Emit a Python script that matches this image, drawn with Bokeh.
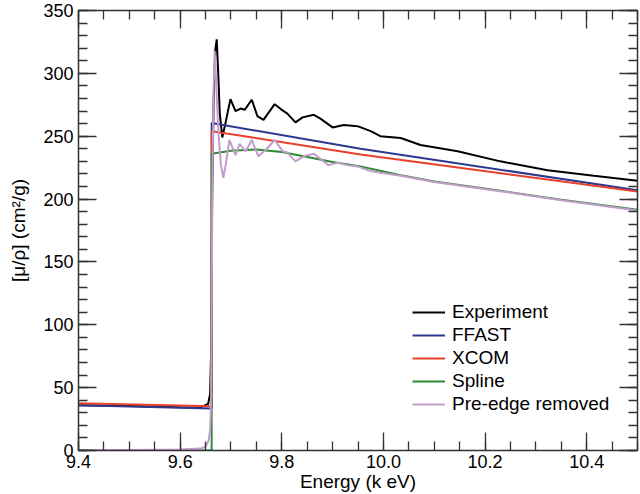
from bokeh.plotting import figure
from bokeh.models import (LinearAxis, SingleIntervalTicker, PrintfTickFormatter,
                          Range1d, CustomJSTickFormatter)
from bokeh.embed import file_html
from bokeh.resources import INLINE

# ---------------- data ----------------
exp_e = [9.40, 9.50, 9.60, 9.64, 9.655, 9.659, 9.661, 9.663, 9.666, 9.669, 9.672,
         9.675, 9.678, 9.683, 9.690, 9.699, 9.709, 9.719, 9.727, 9.741, 9.752,
         9.764, 9.786, 9.798, 9.811, 9.827, 9.841, 9.863, 9.876, 9.900, 9.922,
         9.949, 9.975, 9.994, 10.034, 10.073, 10.146, 10.230, 10.323, 10.414, 10.500]
exp_v = [36.0, 35.3, 34.5, 34.3, 37, 45, 80, 200, 280, 318, 327,
         300, 268, 249, 262, 279.5, 270, 272, 271, 279, 266,
         263, 275.5, 271.6, 268, 261, 265, 267, 264, 257, 259,
         258, 254, 250, 248.6, 243, 238, 230, 223, 218.5, 214.6]

ffast_e = [9.40, 9.662, 9.6621, 9.955, 10.50]
ffast_v = [36.0, 33.5, 260.5, 240.0, 207.0]

xcom_e = [9.40, 9.662, 9.6621, 9.955, 10.50]
xcom_v = [37.5, 35.2, 254.0, 235.5, 206.0]

spline_e = [9.40, 9.662, 9.6622, 9.70, 9.75, 9.80, 9.85, 9.90, 9.955, 10.0,
            10.034, 10.10, 10.23, 10.35, 10.50]
spline_v = [0, 0, 236, 238.5, 239.5, 237.5, 233.5, 229.5, 226, 222,
            219, 214, 206.6, 199.5, 191.5]

pre_e = [9.40, 9.50, 9.60, 9.64, 9.65, 9.656, 9.659, 9.661, 9.662, 9.664, 9.666,
         9.668, 9.671, 9.675, 9.680, 9.685, 9.690, 9.697, 9.709, 9.717, 9.729,
         9.741, 9.754, 9.768, 9.786, 9.802, 9.811, 9.827, 9.843, 9.863, 9.876,
         9.892, 9.910, 9.929, 9.949, 9.969, 9.994, 10.034, 10.10, 10.23, 10.35, 10.50]
pre_v = [0.3, 0.4, 0.8, 1.5, 3, 8, 16, 40, 120, 230, 290,
         318, 292, 255, 228, 217, 228, 247, 235, 244, 238,
         247, 234, 239, 247, 238, 237, 230, 234, 236, 232,
         227, 229, 227, 226, 223, 221, 218.5, 213.5, 206.3, 199, 191]

x_range = (9.4, 10.5)
y_range = (0, 350)

# ---------------- figure ----------------
FONT = "Liberation Sans"
AX = "#333333"

p = figure(width=640, height=494, output_backend="svg", toolbar_location=None,
           x_range=Range1d(*x_range), y_range=Range1d(*y_range),
           min_border_left=78, min_border_right=3, min_border_top=10,
           min_border_bottom=10)
p.xgrid.visible = False
p.ygrid.visible = False
p.outline_line_color = None
p.background_fill_color = "white"
p.border_fill_color = "white"

series = [
    (exp_e, exp_v, "black", "Experiment"),
    (ffast_e, ffast_v, "#2b3990", "FFAST"),
    (xcom_e, xcom_v, "#e8402a", "XCOM"),
    (spline_e, spline_v, "#2f8a35", "Spline"),
    (pre_e, pre_v, "#c49ccb", "Pre-edge removed"),
]
for xs, ys, col, lab in series:
    p.line(xs, ys, line_color=col, line_width=2, legend_label=lab)

def style_axis(ax, show_labels):
    ax.axis_line_color = AX
    ax.axis_line_width = 1.5
    ax.major_tick_line_color = AX
    ax.minor_tick_line_color = AX
    ax.major_tick_line_width = 1.3
    ax.minor_tick_line_width = 1.3
    ax.major_tick_in = 18
    ax.major_tick_out = 0
    ax.minor_tick_in = 9
    ax.minor_tick_out = 0
    if show_labels:
        ax.major_label_text_font = FONT
        ax.major_label_text_font_size = "18px"
        ax.major_label_text_color = "black"
        ax.axis_label_text_font = FONT
        ax.axis_label_text_font_size = "19px"
        ax.axis_label_text_font_style = "normal"
        ax.axis_label_text_color = "black"
    else:
        ax.formatter = CustomJSTickFormatter(code="return '';")
        ax.major_label_standoff = 0
        ax.axis_label = None

xt = SingleIntervalTicker(interval=0.2, num_minor_ticks=4)
yt = SingleIntervalTicker(interval=50, num_minor_ticks=5)

xa = p.xaxis[0]
xa.ticker = xt
xa.formatter = PrintfTickFormatter(format="%.1f")
xa.axis_label = "Energy (k eV)"
xa.major_label_standoff = 4
xa.axis_label_standoff = 0
style_axis(xa, True)

ya = p.yaxis[0]
ya.ticker = yt
ya.axis_label = "[μ/ρ] (cm²/g)"
ya.major_label_standoff = 5
ya.axis_label_standoff = 11
style_axis(ya, True)

top = LinearAxis(ticker=SingleIntervalTicker(interval=0.2, num_minor_ticks=4))
style_axis(top, False)
p.add_layout(top, "above")
right = LinearAxis(ticker=SingleIntervalTicker(interval=50, num_minor_ticks=5))
style_axis(right, False)
p.add_layout(right, "right")

lg = p.legend[0]
lg.location = (334, 35)
lg.border_line_color = None
lg.background_fill_alpha = 0
lg.padding = 0
lg.margin = 0
lg.spacing = 1
lg.glyph_width = 33
lg.glyph_height = 18
lg.label_height = 18
lg.label_standoff = 7
lg.label_text_font = FONT
lg.label_text_font_size = "19px"
lg.label_text_color = "black"

open("out.html", "w").write(file_html(p, INLINE))
